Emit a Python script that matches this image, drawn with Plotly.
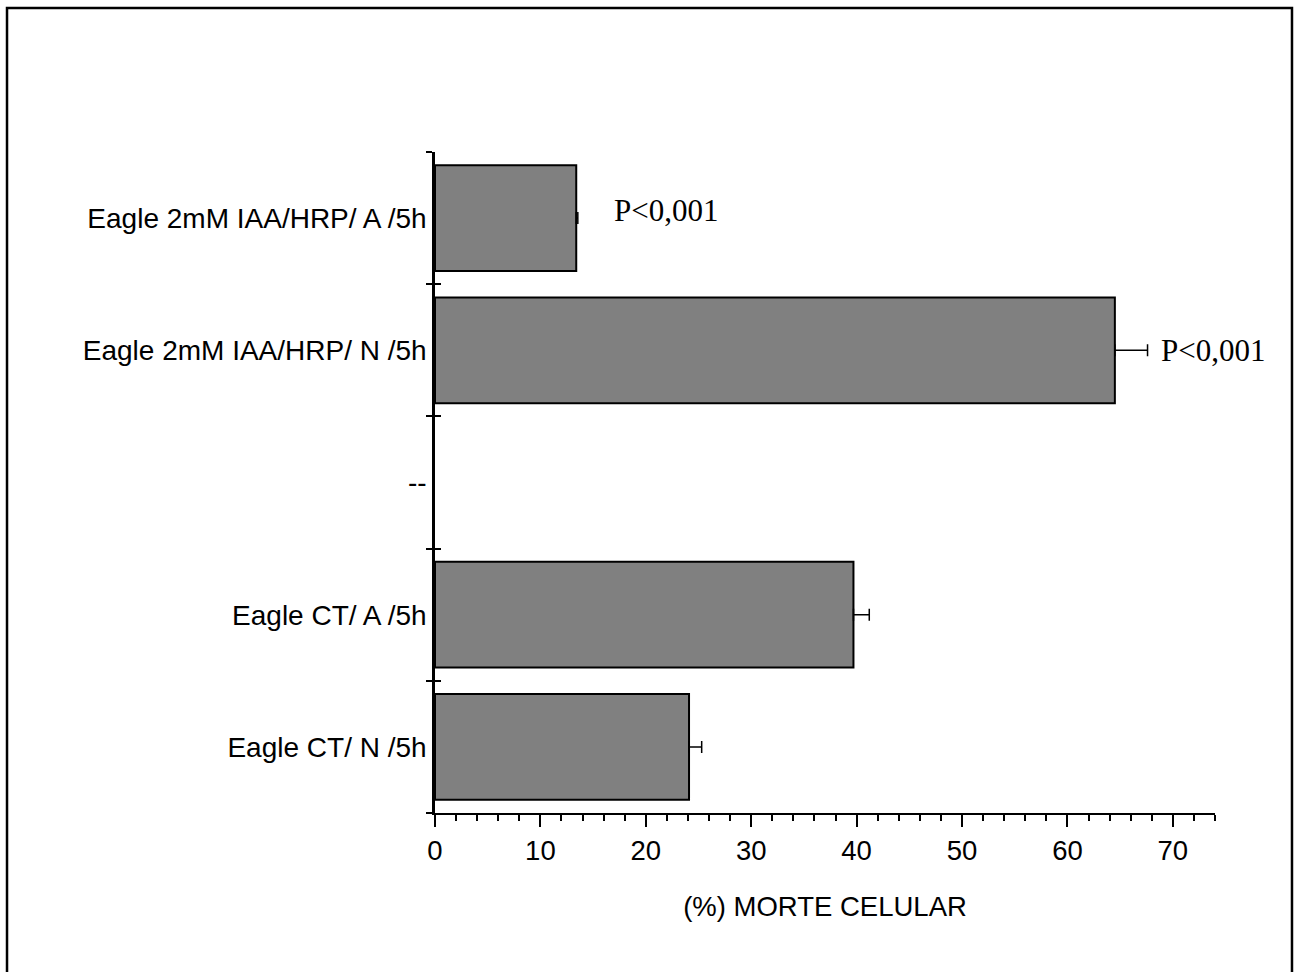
import plotly.graph_objects as go

# Groups, listed from bottom to top; "--" is an empty separator row
categories = [
    "Eagle CT/ N /5h",
    "Eagle CT/ A /5h",
    "--",
    "Eagle 2mM IAA/HRP/ N /5h",
    "Eagle 2mM IAA/HRP/ A /5h",
]
cell_death = [24.1, 39.7, None, 64.5, 13.4]      # % morte celular
error_plus = [1.2, 1.5, None, 3.1, 0.15]
error_minus = [0, 0, None, 0, 0]

p_labels = ["P<0,001", "P<0,001"]
p_rows = ["Eagle 2mM IAA/HRP/ A /5h", "Eagle 2mM IAA/HRP/ N /5h"]
p_x = [16.8, 68.7]
p_shift = [8, 0]

x_ticks = [0, 10, 20, 30, 40, 50, 60, 70]

sans = "Liberation Sans, Arial, sans-serif"
serif = "Liberation Serif, Times New Roman, serif"

fig = go.Figure()

fig.add_trace(go.Bar(
    x=cell_death,
    y=categories,
    orientation="h",
    width=0.8,
    marker=dict(color="#808080", line=dict(color="black", width=2)),
    error_x=dict(
        type="data", symmetric=False,
        array=error_plus, arrayminus=error_minus,
        color="black", thickness=1.5, width=6,
    ),
    showlegend=False,
    hoverinfo="skip",
))

# transparent copy on an overlaid axis: gives the inward half of the crossing ticks
fig.add_trace(go.Bar(
    x=cell_death,
    y=categories,
    orientation="h",
    yaxis="y2",
    opacity=0,
    showlegend=False,
    hoverinfo="skip",
))

for label, row, xv, dy in zip(p_labels, p_rows, p_x, p_shift):
    fig.add_annotation(
        x=xv, y=row, text=label, showarrow=False,
        xanchor="left", yanchor="middle", yshift=dy,
        font=dict(family=serif, size=31, color="black"),
    )

# outer frame around the figure
fig.add_shape(
    type="rect", xref="paper", yref="paper",
    x0=-0.5487, x1=1.0987, y0=-0.245, y1=1.2179,
    line=dict(color="black", width=2.5), fillcolor="rgba(0,0,0,0)",
)

fig.update_layout(
    width=1300, height=972, autosize=False,
    margin=dict(l=435, r=85, t=152, b=159),
    paper_bgcolor="white", plot_bgcolor="white",
    font=dict(family=sans, size=27, color="black"),
    bargap=0.2,
    xaxis=dict(
        range=[0, 74],
        tickvals=x_ticks,
        ticks="outside", ticklen=12, tickwidth=2, tickcolor="black",
        minor=dict(dtick=2, tick0=0, ticks="outside", ticklen=6,
                   tickwidth=2, tickcolor="black", showgrid=False),
        showline=True, linewidth=2, linecolor="black",
        showgrid=False, zeroline=False,
        tickfont=dict(family=sans, size=27.5),
        title=dict(text="(%) MORTE CELULAR", standoff=32,
                   font=dict(family=sans, size=27.5)),
    ),
    yaxis=dict(
        type="category",
        categoryorder="array", categoryarray=categories,
        range=[-0.5, 4.5],
        tickson="boundaries",
        ticks="outside", ticklen=6, tickwidth=2, tickcolor="black",
        showline=True, linewidth=2.5, linecolor="black",
        showgrid=False, zeroline=False,
        tickfont=dict(family=sans, size=28),
    ),
    yaxis2=dict(
        type="category",
        categoryorder="array", categoryarray=categories,
        overlaying="y", side="left", anchor="x",
        range=[-0.5, 4.5],
        tickson="boundaries",
        ticks="inside", ticklen=6, tickwidth=2, tickcolor="black",
        showticklabels=False, showline=False,
        showgrid=False, zeroline=False,
    ),
)

fig.write_html("out.html")
